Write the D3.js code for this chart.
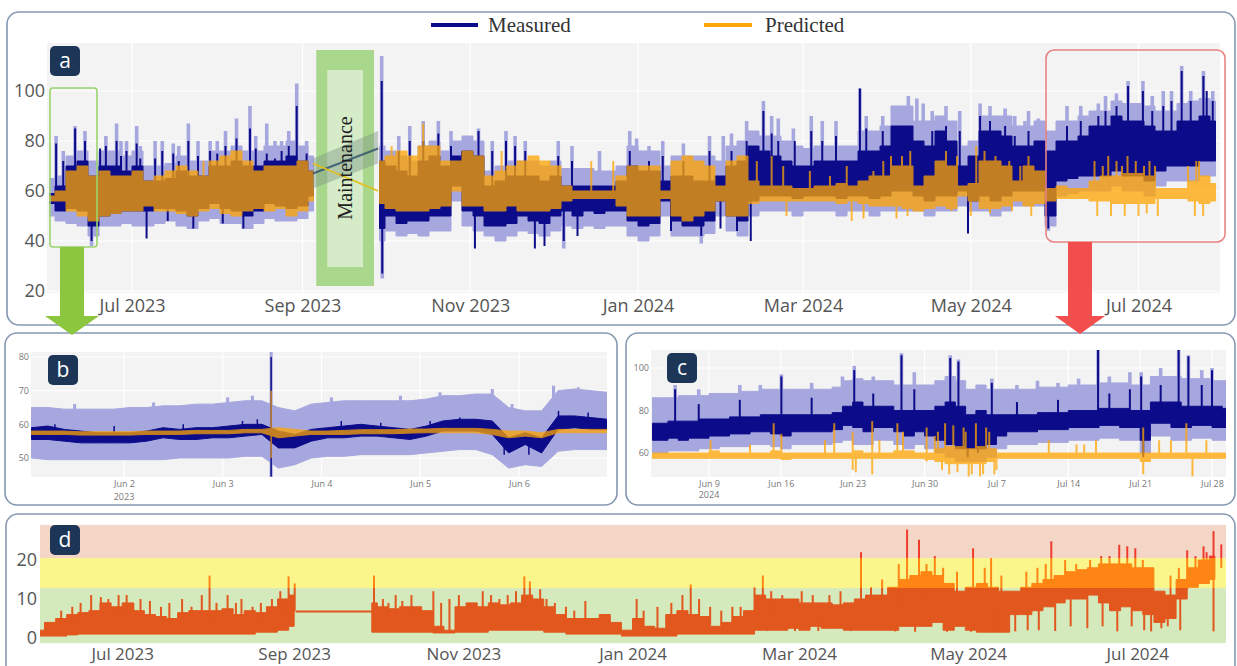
<!DOCTYPE html>
<html>
<head>
<meta charset="utf-8">
<script src="https://cdn.jsdelivr.net/npm/d3@7"></script>
<style>
  html, body { margin: 0; background: #fff; }
  svg { display: block; }
</style>
</head>
<body>
<svg id="chart" width="1237" height="666"></svg>
<script>
(function () {
    'use strict';

    // ---- panel a: full period, 4-day bins from 2023-06-01 (null = maintenance gap)
    const aStart = '2023-06-01';
    const aStepDays = 4;
    const aMeasLo = [55,52,53,52,46,50,51,52,52,52,53,53,52,50,53,55,53,52,50,52,55,54,53,54,58,
        null,null,null,null,null,
        45,50,47,48,48,50,50,62,52,50,46,46,47,50,48,47,50,52,50,52,51,52,52,
        48,46,47,56,48,46,46,48,56,50,48,
        56,58,58,58,57,58,58,58,57,58,58,57,58,60,60,58,56,
        58,58,60,56,58,56,58,60,60,60,50,64,65,66,66,66,68,66,66,64,68,70,70,70,72,72];
    const aMeasHi = [59,62,70,72,66,70,70,68,70,64,64,65,68,66,66,70,70,72,70,70,72,72,74,72,68,
        null,null,null,null,null,
        72,70,68,66,72,74,70,74,76,74,62,64,66,66,66,64,66,62,62,62,62,62,64,
        70,68,68,64,66,66,64,64,66,70,72,
        78,76,74,72,70,70,72,72,72,72,76,76,78,86,86,80,78,
        84,80,70,74,84,84,82,78,78,80,76,80,80,82,86,86,90,88,88,86,84,84,88,88,90,88];
    const aPredLo = [56,56,52,50,48,50,51,52,52,54,52,52,51,50,52,53,51,50,52,53,52,53,50,52,56,
        null,null,null,null,null,
        55,53,52,52,52,53,54,60,54,54,52,52,54,52,52,52,53,56,57,57,57,57,54,
        50,50,50,57,50,48,50,52,56,50,50,
        55,56,56,56,56,56,56,56,55,56,55,54,54,54,53,52,53,
        54,53,58,56,53,53,54,56,54,55,56,57,57,57,56,56,55,55,55,55,57,57,57,56,55,56];
    const aPredHi = [58,60,68,70,66,68,66,66,68,64,66,68,70,68,66,72,74,76,72,68,70,70,70,72,68,
        null,null,null,null,null,
        72,74,76,74,78,78,72,72,76,74,66,68,70,72,74,72,70,62,60,60,60,60,66,
        70,70,70,60,72,74,72,70,62,72,74,
        64,62,62,62,61,61,62,62,63,62,64,66,66,70,70,62,66,
        72,70,62,63,72,72,70,64,70,68,61,62,61,61,64,66,66,67,67,66,61,61,61,64,66,63];
    const aBandLo = [50,48,47,46,42,46,46,47,46,46,47,48,46,45,48,49,47,47,45,47,49,48,48,49,52,
        null,null,null,null,null,
        40,44,42,43,42,44,44,56,46,44,42,40,42,44,43,42,44,46,45,46,45,46,46,
        42,40,42,50,42,42,42,43,50,44,42,
        50,52,52,52,50,52,52,52,50,52,52,50,52,52,52,52,50,
        52,52,54,52,52,50,52,54,54,54,46,58,59,60,60,60,62,60,60,58,62,64,64,64,66,66];
    const aBandHi = [65,66,74,76,72,76,76,74,76,70,70,71,74,72,72,76,76,78,76,76,78,78,80,78,74,
        null,null,null,null,null,
        78,76,74,72,78,80,76,80,82,80,68,70,72,72,72,70,72,69,69,69,68,68,70,
        78,76,76,70,74,74,74,74,72,78,80,
        84,82,82,80,78,77,78,78,78,78,84,84,86,94,94,88,88,
        90,88,78,80,90,90,90,86,86,88,84,88,88,90,92,92,96,95,95,94,92,92,95,96,97,96];
    // spikes: [days after 2023-06-01, value]
    const aMeasSpikes = [[2.4,79],[5,72],[9.3,85],[12.9,80],[15.3,40],[18.4,77],[20.5,78],[24.4,80],[26,74],[28,76],
        [31.7,79],[33,73],[35.3,41],[38.4,73],[41,76],[43,48],[45,75],[47,72],[50.5,80],[52.3,45],[54,74],[58.4,76],
        [61,75],[63,47],[64,78],[68,81],[70.5,45],[72.9,85],[75,77],[79,75],[82,73],[84.4,76],[87,78],[89.9,94],
        [93.5,75],[120.8,104],[121,27],[127,76],[131,80],[135.9,80],[141.4,83],[146,78],[150,76],[154.7,37],[156,84],
        [161,76],[166,80],[169.3,78],[173,76],[176.5,37],[180,38],[185,74],[187,40],[190,72],[192,42],[211,76],
        [218,72],[223,74],[226,44],[230.5,72],[237,42],[240,76],[244,45],[248,76],[250,44],[253.5,80],[255,40],
        [259.6,92],[262.6,83],[265,80],[271,80],[277,84],[281,80],[286,82],[294.7,101],[297,85],[303,84],[307,86],
        [321,84],[326,86],[331,84],[334,43],[338.4,90],[342,88],[347.5,86],[351,82],[356,84],[363.2,45],[370,86],
        [375,88],[381.4,90],[384,92],[388,94],[392.2,102],[397.6,100],[401,92],[405,94],[408,96],[411.7,108],
        [415,96],[419.6,106],[420.8,100],[423,96]];
    const aBandSpikes = [[2.4,82],[5,76],[9.3,86],[12.9,84],[15.3,38],[20.5,82],[24.4,87],[26,80],[28,80],[31.7,86],
        [33,78],[38.4,80],[41,80],[45,79],[47,78],[50.5,87],[54,80],[58.4,80],[61,80],[64,84],[68,89],[72.9,94],
        [75,82],[79,87],[82,80],[84.4,80],[87,84],[89.9,103],[93.5,80],[120.8,114],[121,25],[127,82],[131,86],
        [135.9,88],[141.4,88],[146,84],[150,80],[156,85],[161,80],[166,84],[169.3,82],[173,80],[185,80],[187,37],
        [190,78],[200,76],[211,84],[213.5,81],[218,78],[223,80],[230.5,79],[237,39],[240,82],[245,82],[248,83],
        [253.5,88],[259.6,96],[262.6,90],[265,89],[270.5,85],[277,90],[281,88],[286,88],[294.7,101],[297,90],
        [303,90],[307,92],[312.3,98],[315.4,97],[317.7,95],[321,92],[326,94],[331,92],[338.4,95],[342,94],[347.5,93],
        [351,90],[354.7,88],[356,92],[359.6,89],[363.2,44],[370,94],[375,94],[381.4,95],[384,98],[388,99],[392.2,104],
        [397.6,104],[401,98],[405,100],[408,100],[411.7,110],[415,100],[419.6,108],[423,100]];
    const aPredSpikes = [[56,72],[69,76],[124.4,78],[135.9,87],[164.4,76],[197,72],[205,72],[257.2,72],[262.6,74],
        [266.8,70],[268,50],[276.5,68],[283.8,66],[289.9,70],[291.7,48],[296,49],[299.6,68],[303.2,72],[306,74],
        [308,49],[310,74],[312,50],[313,76],[326,76],[328,52],[330,74],[335,50],[337,78],[340,76],[342,51],[344,74],
        [349,72],[350,52],[353,70],[356,74],[357,50],[380,72],[381,50],[383,70],[385,74],[386,50],[388,72],[390,70],
        [391,50],[392,74],[395,72],[396,50],[398,70],[399,51],[400,72],[402,70],[403,50],[414,70],[416.5,50],
        [417,72],[418,72],[419.5,50]];
    // straight segments drawn across the maintenance gap
    const aBridgeDays = [95.8, 119.5];
    const aBridgeMeas = [67, 77];
    const aBridgePred = [71, 60];
    const aBridgeBandLo = [61, 71];
    const aBridgeBandHi = [73, 84];
    const maintenance = ['2023-09-06', '2023-09-27'];
    const aXTicks = ['2023-07-01','2023-09-01','2023-11-01','2024-01-01','2024-03-01','2024-05-01','2024-07-01'];
    const aYTicks = [20, 40, 60, 80, 100];

    // ---- panel b: 2023-06-01 .. 06-06, 4-hour bins
    const bStart = '2023-06-01 01:30';
    const bStepDays = 1 / 6;
    const bMeasLo = [55.5,55.5,55,54.5,54.5,54.5,54.5,55,56,55.5,55.5,56,56,56.5,57,53,53,55,56,56,56.5,56.5,56,55.5,
        56.5,58,58,58,57,51.5,54,51.5,58.5,59,58.5,58.5];
    const bMeasHi = [59,59.5,58.5,58,57.5,57.5,57.5,58,59,58.5,59,59,59.5,60,60,58,57,58.5,59,59.5,60,59.5,59,58.5,
        59.5,61,61.5,61.5,61,56,57.5,56,62.5,62.5,62,61.5];
    const bBandLo = [50,49.5,49.5,49.5,49.5,49.5,49.5,49.5,49.5,50,50,50,50,50.5,50.5,47,48,50,50.5,50.5,51,51,51,51,
        51.5,52,52.5,52.5,51,47,48,47.5,52,52.5,52.5,52.5];
    const bBandHi = [65,65,64.5,64.5,64.5,64.5,65,65,65.5,65.5,66,66,66.5,67,67,65,64,66,66.5,67,67,67,67,67,
        67.5,68.5,68.5,69,69,65,64,64,70,70.5,70,69.5];
    const bPredLo = [57,57,57,56.8,56.8,56.8,56.8,57,57,57,57.2,57.2,57.2,57.5,57.5,56,56.5,57,57,57,57.2,57.2,57.2,57.4,
        57.5,57.5,57.5,57.5,57,56,56.5,56,57.5,57.5,57.5,57.5];
    const bPredHi = [58,58,58,57.8,57.8,57.8,57.8,58,58,58,58.2,58.2,58.2,58.5,58.5,59,58.5,58,58,58.2,58.4,58.4,58.4,58.6,
        58.6,58.8,58.8,58.8,58.5,58,58,57.5,58.5,58.5,58.5,58.5];
    const bMeasSpikes = [[2.49,80],[2.49,44.5],[0.3,60],[0.9,59.5],[1.6,60],[2.2,61],[2.35,61.5],[3.2,61],[3.6,60.5],
        [4.1,61],[4.4,62],[4.85,51],[5.1,51],[5.4,64],[5.7,63.5]];
    const bBandSpikes = [[2.49,81.5],[2.49,44],[0.5,66],[1.3,66.5],[2.05,68],[2.3,68.5],[3.1,68],[3.8,68.5],[4.2,69.5],
        [4.73,70.5],[4.93,66],[5.35,71.5],[5.6,71]];
    const bPredSpikes = [[2.49,70],[2.49,50]];
    const bXTicks = ['2023-06-02','2023-06-03','2023-06-04','2023-06-05','2023-06-06'];
    const bYTicks = [50, 60, 70, 80];

    // ---- panel c: 2024-06-03 .. 07-29, daily bins
    const cStart = '2024-06-03 12:00';
    const cStepDays = 1;
    const cMeasLo = [66,66,67,66,67,67,68,68,69,69, 70,70,69,68,70,70,70,70,71,73, 72,70,72,72,70,68,70,68,66,64,
        62,62,62,64,68,70,70,70,71,71, 71,72,72,72,73,73,72,72,66,74, 74,72,72,73,73,72,72];
    const cMeasHi = [74,74,75,75,75,76,76,76,77,77, 77,78,78,78,78,78,78,78,79,82, 84,82,82,82,80,80,80,80,82,84,
        82,78,80,78,78,78,78,78,79,79, 79,80,80,80,81,81,81,80,80,84, 84,84,82,82,82,82,81];
    const cBandLo = [60,60,61,61,61,62,62,63,63,63, 64,64,63,62,64,64,64,64,65,66, 64,64,66,66,64,62,64,62,60,58,
        56,56,56,58,62,64,64,64,65,65, 65,66,66,66,67,67,66,66,60,68, 68,66,66,67,67,66,66];
    const cBandHi = [86,86,86,87,87,87,88,88,88,89, 89,90,90,90,90,90,90,90,91,94, 95,94,94,94,92,92,92,92,94,96,
        94,90,92,90,90,90,90,90,91,91, 91,92,92,92,93,93,93,92,92,96, 96,96,95,95,95,94,94];
    const cPredLo = [57.5,57.5,57.5,57.5,57.5,57.5,57.5,57.5,57.5,57.5, 57.5,57.5,57.5,57,57.5,57.5,57.5,57.5,57.5,57.5,
        57.5,57.5,57.5,57.5,57.5,57.5,57.5,57,56,55, 55,55,55,56,57.5,57.5,57.5,57.5,57.5,57.5,
        57.5,57.5,57.5,57.5,57.5,57.5,57.5,57.5,56,57.5, 57.5,57.5,57.5,57.5,57.5,57.5,57.5];
    const cPredHi = [60,60,60,60,60,60,61,60,60,60, 60,60,61,60,60,60,60,60,60,60, 61,60,60,60,61,61,60,60,62,63,
        63,62,63,62,60,60,60,60,60,60, 60,60,60,60,60,60,60,60,60,60, 60,60,60,60,60,60,60];
    // spikes: [days after 2024-06-03, value]
    const cMeasSpikes = [[2.7,90],[5,83],[9,85],[13.05,96],[16,86],[20.15,99],[22,88],[24.75,106],[26,90],[29.5,104.7],
        [30.3,103],[31.2,58],[32.2,60],[33.55,93],[36,84],[40,85],[43.9,108.6],[45,88],[47,90],[48.1,96],[48.3,58],
        [50,92],[51.75,108.6],[52.7,105.5],[54,92],[55,99]];
    const cBandSpikes = [[2.7,92],[5,90],[9,92],[11,92],[13.05,97],[16,93],[19,96],[20.15,101],[22,96],[24.75,107],
        [26,98],[29.5,106],[30.3,104],[33.55,95],[36,92],[38,94],[40,93],[42,95],[43.9,109],[45,96],[47,98],[48.1,98],
        [50,100],[51.75,109],[52.7,106],[54,99],[55,100]];
    const cPredSpikes = [[6.15,66],[10,64],[12.3,74],[13.05,69],[17.3,66],[18.2,74],[20,70],[20,52],[20.3,51],
        [21.9,75],[21.9,50],[22.6,66],[24.35,74],[24.9,70],[27.2,72],[27.2,56],[28,68],[28.3,70],[28.7,52],[29,74],
        [29.4,50],[29.8,73],[30.2,51],[30.8,72],[31,70],[31.3,49],[31.6,50],[32,74],[32.4,49],[32.7,50],[33,72],
        [33.3,70],[33.8,50],[34,52],[39.1,66],[41.8,64],[42.55,64],[43.7,66],[48.3,72],[48.3,50],[49.85,66],[51,66],
        [52.5,74],[53.1,49],[54.45,66]];
    const cXTicks = ['2024-06-09','2024-06-16','2024-06-23','2024-06-30','2024-07-07','2024-07-14','2024-07-21','2024-07-28'];
    const cYTicks = [60, 80, 100];

    // ---- panel d: deviation, 4-day bins from 2023-06-01
    const dStart = '2023-06-01';
    const dStepDays = 4;
    const dLo = [0.5,0.5,0.5,0.8,1,1,1,1,1,1,1,1,1,1,1,1,1,1,1,1,1.5,1.5,2,3,
        null,null,null,null,null,null,
        1.5,1.5,1.5,1.5,1.5,1.5,1.3,1.3,1.5,1.5,1.5,2,2,2,2,2,1.5,1.5,1,1,1,1,1,0.5,0.5,0.5,0.5,0.5,1,1,1,1,1,1,1,
        2,2,2,2.5,2,3,2.5,2.5,2,2,2,2, 2,3,3,3,4,2,3,2,1.5,1.5,1.5,
        6,6,7,8,9,10,10,11,9,7,8,7,6,4,5,10,13,14,15];
    const dHi = [2,4,5,6,6.5,7,9,8,9,7,6,5.5,5,6.5,7,7,7,7.5,6,7,6.5,8,10,11,
        null,null,null,null,null,null,
        9,8,7.5,8,8,7,3,2,8,9,8,9,8.5,9,11,10,8,6,5,5,5,6,4,2,5,3,2.5,6,7,6,5.5,3,4,5.5,7,
        11,10,10,10,9,9,9,8.5,9,10,11,11, 13,15,16,17,16,14,12,13,14,13,12,
        12,13,14,15,16,17,17.5,18,19,19,19,18,18,12,11,15,18,20,21];
    const dSpikes = [[8,7],[12,8],[15,9],[18.8,11],[22.3,10.5],[25,10],[28.7,11],[31.6,11],[34,9],[36.6,10],[40,9.5],
        [44,8],[47,9],[51.6,10],[55,8],[58.7,11],[61.5,16],[64,9],[68,11],[71,9],[73,10],[77,8],[80,9],[84,10],[87,12],
        [90,15.8],[92.2,14],[120.8,16],[124,10],[126,9],[128.6,11],[131,9.5],[134.3,11],[137,8],[142.2,12],[145,9],
        [148,10],[151.4,11],[155,9],[160,12],[163,11],[166,10],[169,11],[172,12],[175,15.8],[177,14.5],[180.7,12.5],
        [183,10],[186,9],[190,8],[193,7],[197,9.5],[215.5,10],[218,7],[223,8],[228,9],[232,11],[235,13.7],[238,10],
        [242,8],[246,7],[250,8],[253,8],[258,13],[261,16],[262.5,1.8],[264,12],[268,11],[272.6,1.8],[275,12],[279,11],
        [281,1.8],[285,11],[289,12],[292.7,1.8],[296.4,22],[300,13],[304,15],[308.7,1.7],[310,19],[313,27.8],
        [315.9,1.6],[317.3,25.2],[320,19],[323,21],[326,18],[327.4,1.6],[331,17],[336.1,1.6],[336.8,23],[341,18],
        [343.3,20.5],[344.8,1.7],[347,16],[352,1.7],[356,17],[356.5,2],[360,18],[360.5,2],[363,19],[365,24.8],
        [366.4,1.8],[370,20],[372,3],[374,19],[378,2.5],[379,20],[383,21],[383.5,3],[386,21],[388.8,1.7],[389.5,23.9],
        [392.4,23.5],[394,3],[395.3,23],[398,20],[398.5,2],[401,1.7],[404.7,2.5],[407,3],[408,16],[411,18],[411.5,2],
        [414,22.5],[417,21],[419.9,23.5],[421,22],[423.5,27.4],[423.5,1.7],[426.3,24]];
    const dBridgeDays = [92.5, 120.5];
    const dBridgeVals = [6.8, 6.8];
    const dZoneEdges = [-1.3, 12.8, 20.5, 29];
    const dYTicks = [0, 10, 20];

    // ---- helpers
    const parseDay = d3.timeParse('%Y-%m-%d');
    const parseMin = d3.timeParse('%Y-%m-%d %H:%M');
    const P = (s) => (s.length > 10 ? parseMin(s) : parseDay(s));
    const addDays = (t, n) => new Date(t.getTime() + n * 864e5);
    const grid = (start, step, n) => d3.range(n).map((i) => addDays(P(start), i * step));

    const SANS = '"Open Sans", "Liberation Sans", Arial, sans-serif';
    const SERIF = '"Liberation Serif", "Times New Roman", serif';
    const NAVY = '#0c0c8a';
    const BAND = '#a7a7df';
    const ORANGE = '#ffa500';
    const TICK = '#555';
    const PLOT_BG = '#f3f3f3';

    const svg = d3.select('#chart');
    const defs = svg.append('defs');

    function frame(x, y, w, h) {
        svg.append('rect').attr('x', x).attr('y', y).attr('width', w).attr('height', h)
            .attr('rx', 12).attr('fill', '#fff')
            .attr('stroke', '#8597b2').attr('stroke-width', 1.6);
    }

    function tag(x, y, letter) {
        svg.append('rect').attr('x', x).attr('y', y).attr('width', 30).attr('height', 30)
            .attr('rx', 5).attr('fill', '#1d3658');
        svg.append('text').attr('x', x + 15).attr('y', y + 21.5).attr('text-anchor', 'middle')
            .attr('font-family', SANS).attr('font-size', 21).attr('fill', '#fff').text(letter);
    }

    function clip(id, x0, y0, x1, y1) {
        defs.append('clipPath').attr('id', id).append('rect')
            .attr('x', x0).attr('y', y0).attr('width', x1 - x0).attr('height', y1 - y0);
        return `url(#${id})`;
    }

    function plotBg(x0, y0, x1, y1, x, y, xTicks, yTicks) {
        svg.append('rect').attr('x', x0).attr('y', y0).attr('width', x1 - x0).attr('height', y1 - y0)
            .attr('fill', PLOT_BG);
        const g = svg.append('g').attr('stroke', '#fff').attr('stroke-width', 1.2);
        xTicks.forEach((t) => g.append('line').attr('x1', x(t)).attr('x2', x(t)).attr('y1', y0).attr('y2', y1));
        yTicks.forEach((v) => g.append('line').attr('x1', x0).attr('x2', x1).attr('y1', y(v)).attr('y2', y(v)));
    }

    function axis(gen, tx, ty, size, fill) {
        const g = svg.append('g').attr('transform', `translate(${tx},${ty})`).call(gen);
        g.select('.domain').remove();
        g.selectAll('line').remove();
        g.selectAll('text').attr('font-family', SANS).attr('font-size', size).attr('fill', fill);
        return g;
    }

    function nearest(pts, t) {
        let best = null;
        pts.forEach((q) => {
            if (q.lo != null && (!best || Math.abs(q.d - t) < Math.abs(best.d - t))) best = q;
        });
        return best;
    }

    // envelope of a dense series + its spikes
    function layer(g, x, y, dates, lo, hi, base, spikes, color, sw, curve) {
        const pts = dates.map((d, i) => ({ d, lo: lo[i], hi: hi[i] }));
        const area = d3.area().defined((q) => q.lo != null).curve(curve || d3.curveLinear)
            .x((q) => x(q.d)).y0((q) => y(q.lo)).y1((q) => y(q.hi));
        g.append('path').datum(pts).attr('d', area).attr('fill', color)
            .attr('stroke', color).attr('stroke-width', 1).attr('stroke-linejoin', 'round');
        spikes.forEach(([day, v]) => {
            const t = addDays(base, day);
            const q = nearest(pts, t);
            g.append('line').attr('x1', x(t)).attr('x2', x(t))
                .attr('y1', y((q.lo + q.hi) / 2)).attr('y2', y(v))
                .attr('stroke', color).attr('stroke-width', sw);
        });
    }

    function seriesPanel(id, box, x, y, dates, base, s, sw, curve) {
        const g = svg.append('g').attr('clip-path', clip(id, ...box));
        layer(g.append('g'), x, y, dates, s.band[0], s.band[1], base, s.band[2], BAND, sw + 1.6, curve);
        layer(g.append('g'), x, y, dates, s.meas[0], s.meas[1], base, s.meas[2], NAVY, sw, curve);
        layer(g.append('g').attr('opacity', 0.75), x, y, dates, s.pred[0], s.pred[1], base, s.pred[2], ORANGE, sw, curve);
        return g;
    }

    // ---- frames
    frame(7, 12, 1228, 313);
    frame(5, 333, 612, 172);
    frame(626, 333, 609, 172);
    frame(6, 514, 1229, 170);

    // ---- legend
    svg.append('line').attr('x1', 431).attr('x2', 478).attr('y1', 25).attr('y2', 25)
        .attr('stroke', NAVY).attr('stroke-width', 4);
    svg.append('text').attr('x', 488).attr('y', 32).attr('font-family', SERIF).attr('font-size', 21)
        .attr('fill', '#333').text('Measured');
    svg.append('line').attr('x1', 704).attr('x2', 752).attr('y1', 25).attr('y2', 25)
        .attr('stroke', ORANGE).attr('stroke-width', 4);
    svg.append('text').attr('x', 765).attr('y', 32).attr('font-family', SERIF).attr('font-size', 21)
        .attr('fill', '#333').text('Predicted');

    // ---- panel a
    const aX = d3.scaleTime().domain([P('2023-06-01'), P('2024-07-31')]).range([49.5, 1221]);
    const aY = d3.scaleLinear().domain([20, 100]).range([291, 91]);
    const aTickDates = aXTicks.map(P);
    plotBg(47, 43, 1220, 293, aX, aY, aTickDates, aYTicks);
    const aBase = P(aStart);
    const aDates = grid(aStart, aStepDays, aMeasLo.length);
    seriesPanel('clipA', [47, 43, 1220, 293], aX, aY, aDates, aBase, {
        band: [aBandLo, aBandHi, aBandSpikes],
        meas: [aMeasLo, aMeasHi, aMeasSpikes],
        pred: [aPredLo, aPredHi, aPredSpikes],
    }, 2, d3.curveStep);

    const m0 = aX(P(maintenance[0]));
    const m1 = aX(P(maintenance[1]));
    svg.append('rect').attr('x', m0).attr('y', 50).attr('width', m1 - m0).attr('height', 236)
        .attr('fill', '#a9d78b');
    svg.append('rect').attr('x', m0 + 11).attr('y', 70).attr('width', m1 - m0 - 22).attr('height', 197)
        .attr('fill', '#d6ecc8');
    const bridge = aBridgeDays.map((d, i) => ({
        t: addDays(aBase, d), m: aBridgeMeas[i], p: aBridgePred[i], lo: aBridgeBandLo[i], hi: aBridgeBandHi[i],
    }));
    svg.append('path').datum(bridge)
        .attr('d', d3.area().x((q) => aX(q.t)).y0((q) => aY(q.lo)).y1((q) => aY(q.hi)))
        .attr('fill', '#7f9a86').attr('opacity', 0.45);
    svg.append('path').datum(bridge).attr('d', d3.line().x((q) => aX(q.t)).y((q) => aY(q.m)))
        .attr('fill', 'none').attr('stroke', '#2c4f6a').attr('stroke-width', 2).attr('opacity', 0.8);
    svg.append('path').datum(bridge).attr('d', d3.line().x((q) => aX(q.t)).y((q) => aY(q.p)))
        .attr('fill', 'none').attr('stroke', '#e3be1a').attr('stroke-width', 1.8);
    svg.append('text').attr('transform', `translate(${(m0 + m1) / 2 + 7},168) rotate(-90)`)
        .attr('text-anchor', 'middle').attr('font-family', SERIF).attr('font-size', 20)
        .attr('fill', '#1e1e1e').text('Maintenance');

    axis(d3.axisLeft(aY).tickValues(aYTicks).tickSize(0).tickPadding(2), 47, 0, 18, TICK);
    axis(d3.axisBottom(aX).tickValues(aTickDates).tickFormat(d3.timeFormat('%b %Y'))
        .tickSize(0).tickPadding(6), 0, 293, 18, TICK);

    // zoom markers
    svg.append('rect').attr('x', 50).attr('y', 88).attr('width', 47).attr('height', 159).attr('rx', 3)
        .attr('fill', 'none').attr('stroke', '#9bd46d').attr('stroke-width', 1.6);
    svg.append('rect').attr('x', 1046).attr('y', 50).attr('width', 179).attr('height', 192).attr('rx', 8)
        .attr('fill', 'none').attr('stroke', '#e98383').attr('stroke-width', 1.6);
    tag(50, 46, 'a');

    // ---- panel b
    const bX = d3.scaleTime().domain([P('2023-06-02'), P('2023-06-06')]).range([124, 519]);
    const bY = d3.scaleLinear().domain([50, 80]).range([458, 357]);
    const bTickDates = bXTicks.map(P);
    plotBg(31, 352, 607, 477, bX, bY, bTickDates, bYTicks);
    seriesPanel('clipB', [31, 352, 607, 477], bX, bY, grid(bStart, bStepDays, bMeasLo.length), P('2023-06-01'), {
        band: [bBandLo, bBandHi, bBandSpikes],
        meas: [bMeasLo, bMeasHi, bMeasSpikes],
        pred: [bPredLo, bPredHi, bPredSpikes],
    }, 1.5);
    axis(d3.axisLeft(bY).tickValues(bYTicks).tickSize(0).tickPadding(2), 31, 0, 9, '#777');
    axis(d3.axisBottom(bX).tickValues(bTickDates).tickFormat(d3.timeFormat('%b %-d'))
        .tickSize(0).tickPadding(4), 0, 477, 9, '#777');
    svg.append('text').attr('x', bX(bTickDates[0])).attr('y', 500).attr('text-anchor', 'middle')
        .attr('font-family', SANS).attr('font-size', 9).attr('fill', '#777').text('2023');
    tag(48, 355, 'b');

    // ---- panel c
    const cX = d3.scaleTime().domain([P('2024-06-09'), P('2024-07-28')]).range([709, 1212]);
    const cY = d3.scaleLinear().domain([60, 100]).range([453, 368]);
    const cTickDates = cXTicks.map(P);
    plotBg(651, 350, 1226, 477, cX, cY, cTickDates, cYTicks);
    seriesPanel('clipC', [651, 350, 1226, 477], cX, cY, grid(cStart, cStepDays, cMeasLo.length), P('2024-06-03'), {
        band: [cBandLo, cBandHi, cBandSpikes],
        meas: [cMeasLo, cMeasHi, cMeasSpikes],
        pred: [cPredLo, cPredHi, cPredSpikes],
    }, 2, d3.curveStep);
    axis(d3.axisLeft(cY).tickValues(cYTicks).tickSize(0).tickPadding(2), 651, 0, 9, '#777');
    axis(d3.axisBottom(cX).tickValues(cTickDates).tickFormat(d3.timeFormat('%b %-d'))
        .tickSize(0).tickPadding(4), 0, 477, 9, '#777');
    svg.append('text').attr('x', cX(cTickDates[0])).attr('y', 498).attr('text-anchor', 'middle')
        .attr('font-family', SANS).attr('font-size', 9).attr('fill', '#777').text('2024');
    tag(667, 353, 'c');

    // ---- panel d
    const dX = d3.scaleTime().domain([P('2023-06-01'), P('2024-08-02')]).range([39, 1226]);
    const dY = d3.scaleLinear().domain([0, 20]).range([638, 560]);
    const dFills = ['#d4e9bc', '#fbf68b', '#f3d6c6'];
    const dInk = ['#e2571d', '#ff8514', '#ef3b2d'];
    const dBase = P(dStart);
    const dDates = grid(dStart, dStepDays, dLo.length);
    const dBridge = dBridgeDays.map((d, i) => ({ t: addDays(dBase, d), v: dBridgeVals[i] }));
    dFills.forEach((fill, k) => {
        const top = dY(dZoneEdges[k + 1]);
        const bottom = dY(dZoneEdges[k]);
        svg.append('rect').attr('x', 40).attr('y', top).attr('width', 1186).attr('height', bottom - top)
            .attr('fill', fill);
    });
    dInk.forEach((ink, k) => {
        const top = dY(dZoneEdges[k + 1]);
        const bottom = dY(dZoneEdges[k]);
        const g = svg.append('g').attr('clip-path', clip('clipD' + k, 40, top, 1226, bottom));
        layer(g, dX, dY, dDates, dLo, dHi, dBase, dSpikes, ink, 2, d3.curveStep);
        g.append('path').datum(dBridge).attr('d', d3.line().x((q) => dX(q.t)).y((q) => dY(q.v)))
            .attr('fill', 'none').attr('stroke', ink).attr('stroke-width', 2);
    });
    axis(d3.axisLeft(dY).tickValues(dYTicks).tickSize(0).tickPadding(3), 40, 0, 18, TICK);
    axis(d3.axisBottom(dX).tickValues(aXTicks.map(P)).tickFormat(d3.timeFormat('%b %Y'))
        .tickSize(0).tickPadding(5), 0, 643, 17, TICK);
    tag(50, 525, 'd');

    // ---- arrows from panel a to the zoomed panels
    svg.append('path')
        .attr('d', 'M60,247 L84,247 L84,316 L99,316 L72,335 L45,316 L60,316 Z')
        .attr('fill', '#8cc63f');
    svg.append('path')
        .attr('d', 'M1068,242 L1092,242 L1092,316 L1105,316 L1080,334 L1055,316 L1068,316 Z')
        .attr('fill', '#f24e4e');
})();
</script>
</body>
</html>
